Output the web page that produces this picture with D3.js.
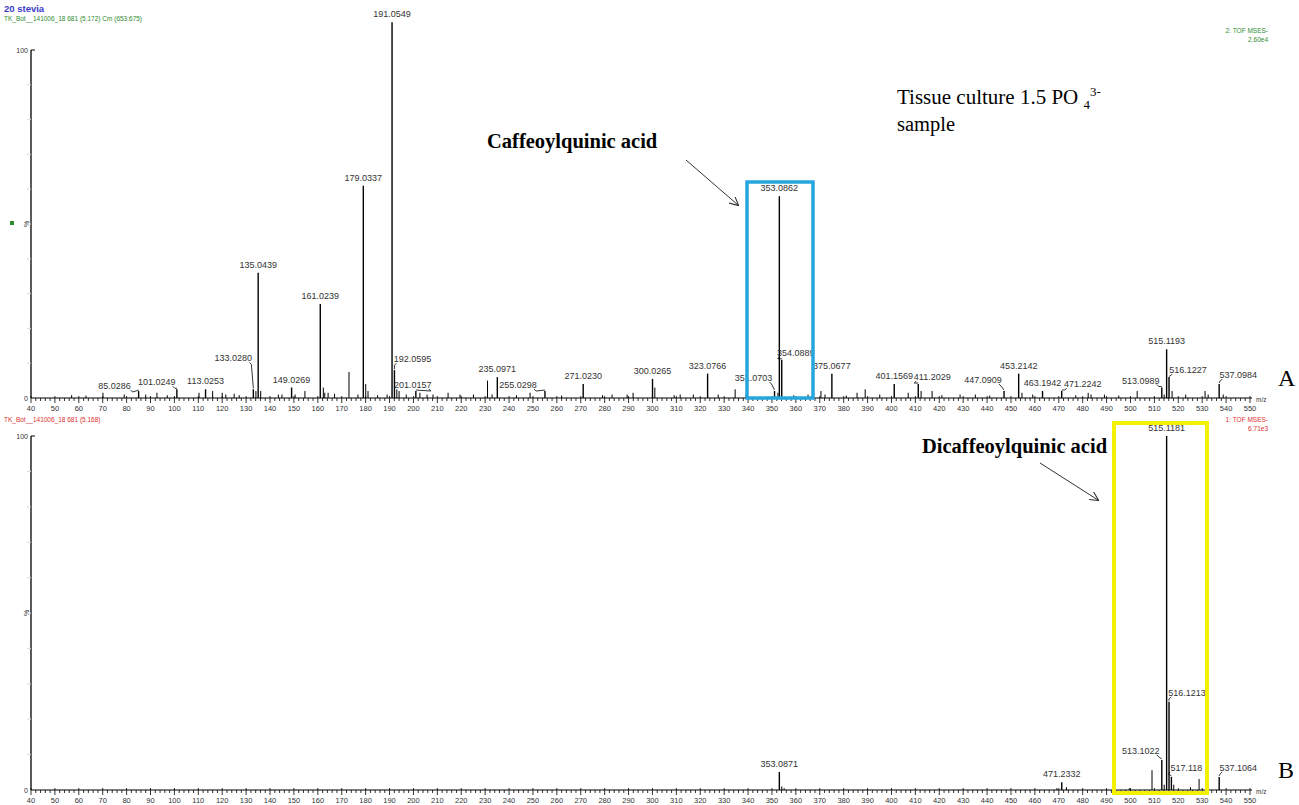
<!DOCTYPE html>
<html>
<head>
<meta charset="utf-8">
<script src="https://cdn.jsdelivr.net/npm/d3@7"></script>
<style>
body { margin: 0; background: #fff; }
</style>
</head>
<body>
<script>
// panel A: labelled peaks (m/z, % intensity)
var peaksA_mz  = [85.0286, 101.0249, 113.0253, 133.0280, 135.0439, 149.0269, 161.0239, 179.0337, 191.0549, 192.0595, 201.0157,
                  235.0971, 255.0298, 271.0230, 300.0265, 323.0766, 351.0703, 353.0862, 354.0889, 375.0677,
                  401.1569, 411.2029, 447.0909, 453.2142, 463.1942, 471.2242, 513.0989, 515.1193, 516.1227, 537.0984];
var peaksA_int = [2, 2.5, 2.5, 2.5, 36, 3, 27, 61, 108, 8, 2,
                  6, 2, 4, 5.5, 7, 2, 58, 11, 7,
                  4, 4, 2, 7, 2, 2, 3, 14, 6, 4];
var labelsA = ['85.0286','101.0249','113.0253','133.0280','135.0439','149.0269','161.0239','179.0337','191.0549','192.0595','201.0157',
               '235.0971','255.0298','271.0230','300.0265','323.0766','351.0703','353.0862','354.0889','375.0677',
               '401.1569','411.2029','447.0909','453.2142','463.1942','471.2242','513.0989','515.1193','516.1227','537.0984'];
// panel A: unlabelled small peaks
var minorA_mz  = [70.1, 88, 92.7, 110.3, 116, 120, 121.5, 134.1, 136.1, 143.5, 150.5, 154.6, 162.3, 162.9, 164.3, 173.04, 176.8, 180.04, 181.0,
                  189, 193.06, 194, 202.7, 205.7, 208.2, 214.5, 219.5, 231.0, 232.9, 248.8, 289.4, 291.9, 301.0, 311.6, 327.5,
                  334.6, 339.6, 352.5, 370.5, 372.2, 385.6, 389, 407, 412.4, 417, 428.7, 454.6, 482.3, 483.5, 502.8, 514.1, 517.4,
                  531.2, 532.5, 538.8, 57.0, 63.0, 79.0, 97.0, 125.0, 127.1, 145.0, 167.0, 185.0, 197.0, 225.1, 243.1, 262.0,
                  279.1, 283.1, 309.1, 317.1, 339.1, 359.1, 365.1, 381.1, 395.1, 421.1, 435.1, 441.1, 459.1, 477.1, 489.1, 495.1, 523.1];
var minorA_int = [1.5, 1, 1.5, 1.5, 2, 1.5, 1, 2, 2, 1, 1, 2, 3, 1.5, 1.5, 7.5, 1, 4, 2,
                  1, 2.5, 2, 1.5, 1, 1, 1.5, 1, 5, 1, 1.5, 1, 1.5, 3, 1, 1,
                  2.5, 1, 1.5, 2, 1, 1.5, 2.5, 1.5, 2, 2, 1, 1.5, 1.5, 1, 2, 1, 2,
                  2, 1, 1, 0.8, 0.7, 1, 0.8, 1.2, 0.8, 1, 1.2, 0.8, 1, 1, 0.8, 0.7,
                  0.8, 1, 0.8, 1, 0.8, 0.8, 1, 0.7, 1, 0.8, 1, 0.7, 1, 0.8, 1, 0.7, 1];

// panel B
var peaksB_mz  = [353.0871, 471.2332, 513.1022, 515.1181, 516.1213, 517.118, 537.1064];
var peaksB_int = [5.1, 2.2, 8.5, 100, 24.9, 3.7, 3.7];
var labelsB = ['353.0871','471.2332','513.1022','515.1181','516.1213','517.118','537.1064'];
var minorB_mz  = [354.09, 473.2, 509.0, 514.1, 518.1, 528.7, 499.5, 525.1, 355.1, 469.2];
var minorB_int = [1, 0.8, 5.6, 1.5, 1.5, 3.1, 0.5, 0.8, 0.5, 0.5];

var xTicks = d3.range(40, 551, 10);

// label offsets (dx, dy from peak top) for labels drawn with a leader line
var offA = {"85.0286":[-24,-2], "101.0249":[-20,-4], "133.0280":[-20,-28], "192.0595":[18,-8], "201.0157":[-3,-3],
            "255.0298":[-27,-3], "351.0703":[-21,-10], "354.0889":[14,-4], "411.2029":[14,-4], "447.0909":[-21,-8],
            "471.2242":[21,-4], "513.0989":[-21,-4], "516.1227":[19,-4], "537.0984":[19,-6]};
var offB = {"513.1022":[-21,-6], "516.1213":[18,-6], "517.118":[15,-6], "537.1064":[19,-6]};

var SANS = '"Liberation Sans", Arial, sans-serif';
var SERIF = '"Liberation Serif", "Times New Roman", serif';

var svg = d3.select('body').append('svg')
    .attr('width', 1299)
    .attr('height', 805)
    .style('font-family', SANS);

var x = d3.scaleLinear().domain([40, 550]).range([31, 1250]);

function panel(top, base, mz, inten, labels, minMz, minInt, offs, letter) {
    var y = d3.scaleLinear().domain([0, 100]).range([base, top]);
    var g = svg.append('g');

    // y axis
    g.append('line').attr('x1', 31).attr('x2', 31).attr('y1', top).attr('y2', base)
        .attr('stroke', '#000').attr('stroke-width', 1.3);
    g.append('line').attr('x1', 31).attr('x2', 35).attr('y1', top).attr('y2', top)
        .attr('stroke', '#000');
    g.append('text').attr('x', 28).attr('y', top + 3).attr('text-anchor', 'end')
        .attr('font-size', 7).attr('fill', '#333').text('100');
    g.append('text').attr('x', 28).attr('y', base + 3).attr('text-anchor', 'end')
        .attr('font-size', 7).attr('fill', '#333').text('0');
    g.append('text').attr('transform', 'translate(29,' + y(50) + ') rotate(-90)')
        .attr('text-anchor', 'middle').attr('font-size', 7).attr('fill', '#333').text('%');
    d3.range(10, 100, 10).forEach(function(v) {
        g.append('line').attr('x1', 27).attr('x2', 31).attr('y1', y(v)).attr('y2', y(v))
            .attr('stroke', '#ddd');
    });

    // x axis
    g.append('line').attr('x1', 31).attr('x2', 1252).attr('y1', base).attr('y2', base)
        .attr('stroke', '#000').attr('stroke-width', 1.2);
    g.selectAll('.mt').data(d3.range(40, 551, 2)).enter().append('line')
        .attr('x1', function(d){ return x(d); }).attr('x2', function(d){ return x(d); })
        .attr('y1', base).attr('y2', function(d){ return d % 10 === 0 ? base + 5 : base + 3; })
        .attr('stroke', '#000').attr('stroke-width', 0.8);
    g.selectAll('.up').data(xTicks).enter().append('line')
        .attr('x1', function(d){ return x(d); }).attr('x2', function(d){ return x(d); })
        .attr('y1', base - 2).attr('y2', base)
        .attr('stroke', '#000').attr('stroke-width', 0.8);
    g.selectAll('.tl').data(xTicks).enter().append('text')
        .attr('x', function(d){ return x(d); }).attr('y', base + 13)
        .attr('text-anchor', 'middle').attr('font-size', 7.5).attr('fill', '#333')
        .text(function(d){ return d; });
    g.append('text').attr('x', 1256).attr('y', base + 4).attr('font-size', 6.5).attr('fill', '#333').text('m/z');

    // minor peaks
    g.selectAll('.mp').data(minMz).enter().append('line')
        .attr('x1', function(d){ return x(d); }).attr('x2', function(d){ return x(d); })
        .attr('y1', base).attr('y2', function(d, i){ return y(minInt[i]); })
        .attr('stroke', '#000').attr('stroke-width', 1);

    // labelled peaks
    mz.forEach(function(m, i) {
        var px = x(m), pt = y(inten[i]);
        g.append('line').attr('x1', px).attr('x2', px).attr('y1', base).attr('y2', pt)
            .attr('stroke', '#000').attr('stroke-width', 1.4);
        var key = labels[i];
        var o = offs[key];
        var lx = px, ly = pt - 5;
        if (o) {
            lx = px + o[0]; ly = pt + o[1];
            var sx = o[0] < 0 ? lx + 16 : lx - 16;
            g.append('polyline')
                .attr('points', [[sx, ly + 1], [sx + (o[0] < 0 ? 2 : -2), ly + 3], [px, pt - 1]].join(' '))
                .attr('fill', 'none').attr('stroke', '#000').attr('stroke-width', 0.8);
        }
        g.append('text').attr('x', lx).attr('y', ly)
            .attr('text-anchor', 'middle').attr('font-size', 9).attr('fill', '#333')
            .text(key);
    });

    svg.append('text').attr('x', 1278).attr('y', base - 12)
        .attr('font-size', 24).style('font-family', SERIF).text(letter);
}

panel(50, 398, peaksA_mz, peaksA_int, labelsA, minorA_mz, minorA_int, offA, 'A');
panel(436, 790, peaksB_mz, peaksB_int, labelsB, minorB_mz, minorB_int, offB, 'B');

// headers
svg.append('text').attr('x', 4).attr('y', 12).attr('font-size', 9.5).attr('font-weight', 'bold')
    .attr('fill', '#3a3ac8').text('20 stevia');
svg.append('text').attr('x', 4).attr('y', 21).attr('font-size', 6.5).attr('fill', '#2e8b2e')
    .text('TK_Bot__141006_18 681 (5.172) Cm (653:675)');
svg.append('text').attr('x', 1268).attr('y', 33).attr('text-anchor', 'end').attr('font-size', 6.5)
    .attr('fill', '#2e8b2e').text('2: TOF MSES-');
svg.append('text').attr('x', 1268).attr('y', 42).attr('text-anchor', 'end').attr('font-size', 6.5)
    .attr('fill', '#2e8b2e').text('2.60e4');
svg.append('rect').attr('x', 10).attr('y', 221).attr('width', 4).attr('height', 4).attr('fill', '#2e8b2e');

svg.append('text').attr('x', 4).attr('y', 422).attr('font-size', 6.5).attr('fill', '#e03030')
    .text('TK_Bot__141006_18 681 (5.168)');
svg.append('text').attr('x', 1268).attr('y', 422).attr('text-anchor', 'end').attr('font-size', 6.5)
    .attr('fill', '#e03030').text('1: TOF MSES-');
svg.append('text').attr('x', 1268).attr('y', 431).attr('text-anchor', 'end').attr('font-size', 6.5)
    .attr('fill', '#e03030').text('6.71e3');

// annotations
svg.append('defs').append('marker').attr('id', 'ah').attr('viewBox', '0 0 10 10')
    .attr('refX', 9).attr('refY', 5).attr('markerWidth', 9).attr('markerHeight', 9)
    .attr('orient', 'auto')
    .append('path').attr('d', 'M0,0 L10,5 L0,10').attr('fill', 'none').attr('stroke', '#333').attr('stroke-width', 1.2);

svg.append('text').attr('x', 487).attr('y', 148)
    .style('font-family', SERIF).attr('font-weight', 'bold').attr('font-size', 20.5)
    .text('Caffeoylquinic acid');
svg.append('line').attr('x1', 686).attr('y1', 160).attr('x2', 738).attr('y2', 205)
    .attr('stroke', '#333').attr('stroke-width', 1).attr('marker-end', 'url(#ah)');
svg.append('rect').attr('x', 747).attr('y', 182).attr('width', 66).attr('height', 216)
    .attr('fill', 'none').attr('stroke', '#27a6dd').attr('stroke-width', 3.5);

var t = svg.append('text').attr('x', 897).attr('y', 104)
    .style('font-family', SERIF).attr('font-size', 21);
t.append('tspan').text('Tissue culture 1.5 PO ');
t.append('tspan').attr('font-size', 13).attr('dy', 5).text('4');
t.append('tspan').attr('font-size', 13).attr('dy', -13).text('3-');
svg.append('text').attr('x', 897).attr('y', 131)
    .style('font-family', SERIF).attr('font-size', 20.5).text('sample');

svg.append('text').attr('x', 922).attr('y', 453)
    .style('font-family', SERIF).attr('font-weight', 'bold').attr('font-size', 20.5)
    .text('Dicaffeoylquinic acid');
svg.append('line').attr('x1', 1040).attr('y1', 463).attr('x2', 1098).attr('y2', 500)
    .attr('stroke', '#333').attr('stroke-width', 1).attr('marker-end', 'url(#ah)');
svg.append('rect').attr('x', 1114).attr('y', 423).attr('width', 93).attr('height', 370)
    .attr('fill', 'none').attr('stroke', '#f2f200').attr('stroke-width', 4);
</script>
</body>
</html>
